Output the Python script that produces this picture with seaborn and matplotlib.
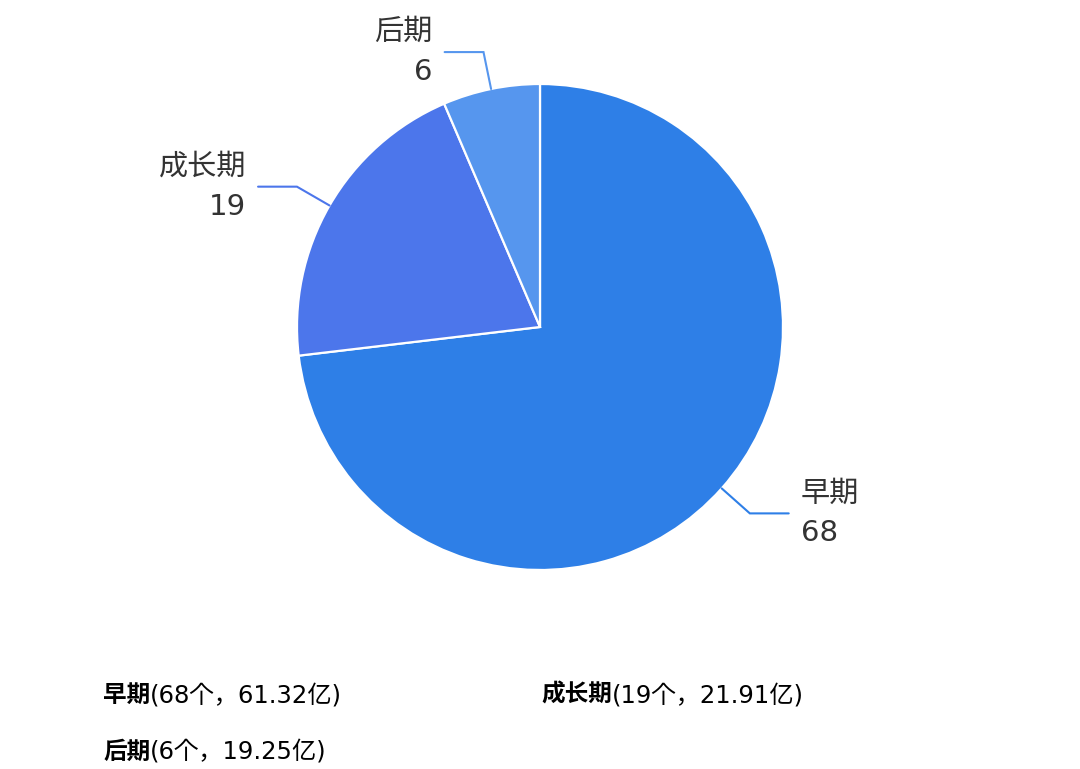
import matplotlib
matplotlib.use('Agg')
import numpy as np
import matplotlib.pyplot as plt
import seaborn as sns

# data
stages = ['早期', '成长期', '后期']
counts = [68, 19, 6]
amounts = ['61.32', '21.91', '19.25']
colors = ['#2e7fe7', '#4c76eb', '#5696ee']

sns.set_theme(style='white')
plt.rcParams['font.family'] = ['DejaVu Sans', 'Noto Sans CJK KR']

W, H = 1080, 769
cx, cy, R = 540, 327, 243  # pie centre and radius in pixels

fig = plt.figure(figsize=(W / 100, H / 100), dpi=100)
ax = fig.add_axes([0, 0, 1, 1])
wedges, _ = ax.pie(counts, colors=colors, startangle=90, counterclock=False,
                   radius=1, wedgeprops=dict(edgecolor='white', linewidth=1.6))
ax.set_xlim(-cx / R, (W - cx) / R)
ax.set_ylim(-(H - cy) / R, cy / R)
ax.axis('off')

len1, len2, gap = 0.155, 0.16, 0.05
for w, name, n, c in zip(wedges, stages, counts, colors):
    ang = np.deg2rad((w.theta1 + w.theta2) / 2)
    p0 = np.array([np.cos(ang), np.sin(ang)])
    p1 = p0 * (1 + len1)
    side = 1 if p0[0] > 0 else -1
    p2 = p1 + np.array([side * len2, 0])
    ax.plot([p0[0], p1[0], p2[0]], [p0[1], p1[1], p2[1]], color=c, lw=1.5,
            solid_joinstyle='miter')
    ax.text(p2[0] + side * gap, p2[1], f'{name}\n{n}', ha='left' if side > 0 else 'right',
            va='center', fontsize=21, color='#333333', linespacing=1.55,
            multialignment='left' if side > 0 else 'right')

# legend text at the bottom: bold name followed by regular details
fig.canvas.draw()
renderer = fig.canvas.get_renderer()
legend_pos = [(103, 695), (541, 695), (103, 752)]
for (x, y), name, n, amt in zip(legend_pos, stages, counts, amounts):
    t = fig.text(x / W, 1 - y / H, name, fontsize=17, fontweight='bold',
                 color='black', ha='left', va='center')
    bb = t.get_window_extent(renderer)
    fig.text(bb.x1 / W, 1 - y / H, f'({n}个，{amt}亿)', fontsize=17.5,
             color='black', ha='left', va='center')

fig.savefig('out.png', dpi=100, facecolor='white')
